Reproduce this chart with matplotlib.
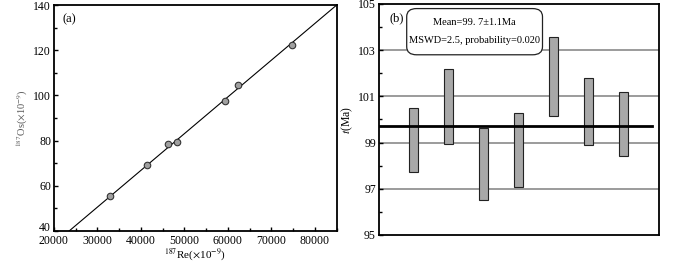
import matplotlib.pyplot as plt
from matplotlib.patches import FancyBboxPatch
from matplotlib.ticker import MultipleLocator

plt.rcParams['font.family'] = ['Liberation Serif', 'DejaVu Serif']
plt.rcParams['mathtext.fontset'] = 'stix'

# (a) isochron data
re187 = [33000, 41500, 46200, 48200, 59300, 62300, 74800]
os187 = [55.3, 69.0, 78.3, 79.5, 97.5, 104.5, 122.3]
slope = 0.001626
intercept = 1.79
line_x = [23500, 85000]
os_ticks = [40, 60, 80, 100, 120, 140]

# (b) weighted mean ages
ages_low = [97.71, 98.93, 96.52, 97.08, 100.14, 98.90, 98.42]
ages_high = [100.50, 102.18, 99.64, 100.30, 103.58, 101.81, 101.20]
mean_age = 99.7
grid_levels = [97, 99, 101, 103]
age_ticks = [95, 97, 99, 101, 103, 105]

fig = plt.figure(figsize=(7, 2.64), dpi=100)

# ---- panel (a)
ax1 = fig.add_axes([0.077, 0.125, 0.404, 0.856])
ax1.plot(line_x, [slope * x + intercept for x in line_x], color='black', lw=0.8)
ax1.scatter(re187, os187, s=22, facecolor='#a0a0a0', edgecolor='#333333', lw=0.8, zorder=3)
ax1.set_xlim(20000, 85000)
ax1.set_ylim(40, 140)
ax1.xaxis.set_major_locator(MultipleLocator(10000))
ax1.xaxis.set_minor_locator(MultipleLocator(5000))
ax1.set_yticks(os_ticks)
ax1.yaxis.set_minor_locator(MultipleLocator(10))
ax1.tick_params(which='both', direction='in', labelsize=8.5, width=1, pad=2)
ax1.tick_params(axis='x', pad=3)
ax1.tick_params(which='major', length=3)
ax1.tick_params(which='minor', length=2)
# bottom label sits just above the x tick labels, as in the original
ax1.yaxis.get_major_ticks()[0].label1.set_va('baseline')
for s in ax1.spines.values():
    s.set_linewidth(1.3)
ax1.set_xlabel(r'$^{187}$Re($\times$10$^{-9}$)', fontsize=8, labelpad=-1)
ax1.set_ylabel(r'$^{187}$Os($\times$10$^{-9}$)', fontsize=7.5, color='#555555', labelpad=2)
ax1.text(0.03, 0.965, '(a)', transform=ax1.transAxes, fontsize=9, va='top')

# ---- panel (b)
ax2 = fig.add_axes([0.541, 0.11, 0.4, 0.875])
for g in grid_levels:
    ax2.axhline(g, color='#808080', lw=1.1, zorder=1)
xs = range(1, len(ages_low) + 1)
ax2.bar(xs, [h - l for l, h in zip(ages_low, ages_high)], bottom=ages_low, width=0.27,
        color='#a8a8a8', edgecolor='#222222', lw=0.8, zorder=2)
ax2.plot([0.03, 7.8], [mean_age, mean_age], color='black', lw=2, zorder=3)
ax2.set_xlim(0, 8)
ax2.set_ylim(95, 105)
ax2.set_xticks([])
ax2.set_yticks(age_ticks)
ax2.yaxis.set_minor_locator(MultipleLocator(1))
ax2.tick_params(which='both', direction='in', labelsize=8.5, width=1, pad=2)
ax2.tick_params(which='major', length=3)
ax2.tick_params(which='minor', length=2)
for s in ax2.spines.values():
    s.set_linewidth(1.3)
ax2.set_ylabel(r'$\it{t}$(Ma)', fontsize=8.5, labelpad=2)
ax2.text(0.04, 0.965, '(b)', transform=ax2.transAxes, fontsize=9, va='top')

box = FancyBboxPatch((0.1, 0.78), 0.485, 0.2, transform=ax2.transAxes,
                     boxstyle='round,pad=0,rounding_size=0.035', facecolor='white',
                     edgecolor='#222222', lw=0.9, zorder=4)
ax2.add_patch(box)
ax2.text(0.342, 0.92, 'Mean=99. 7±1.1Ma', transform=ax2.transAxes, fontsize=7.5,
         ha='center', va='center', zorder=5)
ax2.text(0.342, 0.84, 'MSWD=2.5, probability=0.020', transform=ax2.transAxes, fontsize=7.5,
         ha='center', va='center', zorder=5)

fig.savefig('out.png', dpi=100)
